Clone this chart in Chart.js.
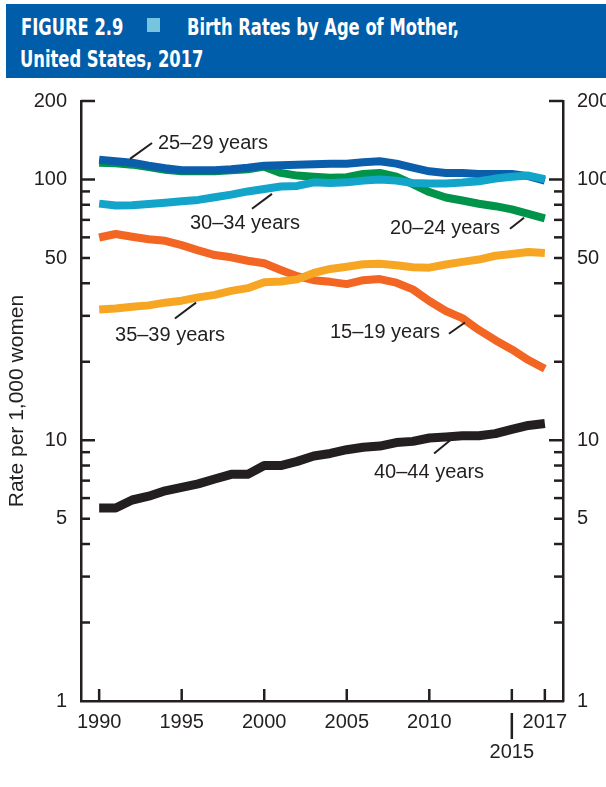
<!DOCTYPE html>
<html>
<head>
<meta charset="utf-8">
<title>Birth Rates by Age of Mother, United States, 2017</title>
<script src="https://cdn.jsdelivr.net/npm/chart.js@4"></script>
<style>
  html, body { margin: 0; padding: 0; background: #fff; overflow: hidden; }
  body { width: 606px; height: 787px; position: relative; }
  #head { position: absolute; z-index: 2; left: 6px; top: 4px; width: 600px; height: 74px; background: #005DAA; color: #fff;
          font-family: "Liberation Sans Narrow", "DejaVu Sans Condensed", sans-serif; font-weight: bold; font-size: 23px; }
  #head span { position: absolute; line-height: 23px; white-space: nowrap; transform: scaleX(0.79); transform-origin: 0 0; }
  #head .sq { position: absolute; left: 141px; top: 14px; width: 13px; height: 14px; background: #75C5E0; }
  #wrap { position: absolute; z-index: 1; left: 0; top: 75px; width: 640px; height: 712px; }
</style>
</head>
<body>
<div id="head">
  <span style="left:15px; top:12px">FIGURE 2.9</span>
  <div class="sq"></div>
  <span style="left:181px; top:12px">Birth Rates by Age of Mother,</span>
  <span style="left:14px; top:44px">United States, 2017</span>
</div>
<div id="wrap"><canvas id="chart" width="640" height="712"></canvas></div>
<script>
// === Data (rates per 1,000 women) ===
const years = [1990, 1991, 1992, 1993, 1994, 1995, 1996, 1997, 1998, 1999,
  2000, 2001, 2002, 2003, 2004, 2005, 2006, 2007, 2008, 2009,
  2010, 2011, 2012, 2013, 2014, 2015, 2016, 2017];

const rate15to19 = [59.9, 61.8, 60.3, 59.0, 58.2, 56.0, 53.5, 51.3, 50.3, 48.8,
  47.7, 45.0, 42.6, 41.1, 40.5, 39.7, 41.1, 41.5, 40.2, 37.9,
  34.2, 31.3, 29.4, 26.5, 24.2, 22.3, 20.3, 18.8];
const rate20to24 = [116, 115.5, 114, 111.5, 109, 107.5, 107.5, 107.5, 108.5, 109.5,
  112, 106, 103.5, 102.5, 101.5, 102, 105, 106, 102.5, 96,
  89.5, 85.3, 83.1, 80.7, 79, 76.8, 73.8, 71];
const rate25to29 = [119, 117.5, 116, 113, 110.5, 108.5, 108.5, 108.5, 109.5, 111,
  113, 113.5, 114, 114.5, 115, 115, 116.5, 117.5, 115, 111,
  107.5, 106, 106, 105, 105, 105, 103, 99];
const rate30to34 = [80.8, 79.5, 79.6, 80.5, 81.5, 82.5, 83.5, 85.5, 87.5, 90,
  92, 94, 94.5, 97.5, 97, 97.5, 99, 100, 99, 97,
  96.5, 96.5, 97.3, 98.5, 100.8, 102.5, 103.5, 100.3];
const rate35to39 = [31.7, 32.0, 32.5, 32.9, 33.7, 34.3, 35.3, 36.1, 37.4, 38.3,
  40.4, 40.6, 41.4, 43.8, 45.4, 46.3, 47.3, 47.5, 46.9, 46.1,
  45.9, 47.2, 48.3, 49.3, 51.0, 51.8, 52.7, 52.3];
const rate40to44 = [5.5, 5.5, 5.9, 6.1, 6.4, 6.6, 6.8, 7.1, 7.4, 7.4,
  8.0, 8.0, 8.3, 8.7, 8.9, 9.2, 9.4, 9.5, 9.8, 9.9,
  10.2, 10.3, 10.4, 10.4, 10.6, 11.0, 11.4, 11.6];

const yLabelTicks = [1, 5, 10, 50, 100, 200];
const yMajorTicks = [10, 100, 200];
const yMinorTicks = [2, 3, 4, 5, 6, 7, 8, 9, 20, 30, 40, 50, 60, 70, 80, 90];
const xTickYears = [1990, 1995, 2000, 2005, 2010, 2015, 2017];

const ink = "#231F20";
const font = { family: "'Liberation Sans', Arial, sans-serif", size: 20 };

// series labels: text anchor (year, rate) and leader line [from, to]
const seriesLabels = [
  { text: "25\u201329 years", at: [1993.56, 138], lead: [[1991.87, 120], [1993.2, 138]] },
  { text: "30\u201334 years", at: [1995.5, 67.6], lead: [[1999.26, 77.2], [2000.47, 88.1]] },
  { text: "20\u201324 years", at: [2007.62, 64.7], lead: [[2014.89, 64.7], [2015.74, 71.3]] },
  { text: "35\u201339 years", at: [1990.96, 25.2], lead: [[1994.59, 29.3], [1995.87, 33.7]] },
  { text: "15\u201319 years", at: [2003.98, 25.9], lead: [[2011.19, 25.6], [2012.16, 28.3]] },
  { text: "40\u201344 years", at: [2006.65, 7.53], lead: [[2010.29, 8.9], [2011.25, 9.98]] },
];

function series(label, values, color, width) {
  return {
    label,
    data: years.map((yr, i) => ({ x: yr, y: values[i] })),
    borderColor: color,
    borderWidth: width,
    pointRadius: 0,
    tension: 0,
    borderJoinStyle: "round",
    borderCapStyle: "butt",
    fill: false,
  };
}

// inward tick marks, the 2015 bar and series labels
const decorations = {
  id: "decorations",
  afterDatasetsDraw(chart) {
    const { ctx, chartArea: a, scales } = chart;
    const x = scales.x, y = scales.y;
    ctx.save();
    ctx.strokeStyle = ink;
    ctx.lineWidth = 2.5;
    const line = (x1, y1, x2, y2) => { ctx.beginPath(); ctx.moveTo(x1, y1); ctx.lineTo(x2, y2); ctx.stroke(); };

    for (const v of yMajorTicks.concat(yMinorTicks)) {
      const py = y.getPixelForValue(v);
      const len = yMajorTicks.includes(v) ? 14 : 9;
      line(a.left, py, a.left + len, py);
      line(a.right, py, a.right - len, py);
    }
    for (const v of xTickYears) {
      const px = x.getPixelForValue(v);
      line(px, a.bottom, px, a.bottom - 12);
    }
    const p15 = x.getPixelForValue(2015);
    line(p15, a.bottom + 12, p15, a.bottom + 38);

    ctx.lineWidth = 2;
    ctx.fillStyle = ink;
    ctx.font = `${font.size}px ${font.family}`;
    ctx.textBaseline = "middle";
    ctx.textAlign = "left";
    for (const s of seriesLabels) {
      const [p, q] = s.lead;
      line(x.getPixelForValue(p[0]), y.getPixelForValue(p[1]), x.getPixelForValue(q[0]), y.getPixelForValue(q[1]));
      ctx.fillText(s.text, x.getPixelForValue(s.at[0]), y.getPixelForValue(s.at[1]));
    }
    ctx.restore();
  },
};

const yScale = (position, width) => ({
  type: "logarithmic",
  position,
  min: 1,
  max: 200,
  afterBuildTicks: (s) => { s.ticks = yLabelTicks.map((v) => ({ value: v, major: false })); },
  afterFit: (s) => { s.width = width; },
  ticks: { callback: (v) => String(v), font, color: ink, padding: 14, autoSkip: false },
  grid: { display: false, drawTicks: false },
  border: { display: true, color: ink, width: 2.5 },
});

new Chart(document.getElementById("chart"), {
  type: "line",
  data: {
    datasets: [
      series("40\u201344 years", rate40to44, ink, 9),
      series("35\u201339 years", rate35to39, "#F6A623", 8),
      series("15\u201319 years", rate15to19, "#F26522", 8),
      series("30\u201334 years", rate30to34, "#13A4C9", 8),
      series("25\u201329 years", rate25to29, "#0A5EAC", 8),
      series("20\u201324 years", rate20to24, "#00934A", 8),
    ],
  },
  options: {
    responsive: false,
    animation: false,
    devicePixelRatio: 1,
    layout: { padding: { top: 15, left: 0, right: 0, bottom: 0 } },
    plugins: { legend: { display: false }, tooltip: { enabled: false } },
    scales: {
      x: {
        type: "linear",
        min: 1988.9,
        max: 2018.1,
        afterBuildTicks: (s) => { s.ticks = xTickYears.map((v) => ({ value: v })); },
        afterFit: (s) => { s.height = 86; },
        ticks: {
          callback: (v) => (v === 2015 ? ["", "2015"] : String(v)),
          font: { ...font, lineHeight: 1.5 },
          color: ink,
          padding: 6,
          maxRotation: 0,
          autoSkip: false,
        },
        grid: { display: false, drawTicks: false },
        border: { display: true, color: ink, width: 2.5 },
      },
      y: {
        ...yScale("left", 81),
        title: { display: true, text: "Rate per 1,000 women", font: { ...font, size: 21 }, color: ink, padding: { top: 5, bottom: 0 } },
      },
      y2: yScale("right", 77),
    },
  },
  plugins: [decorations],
});
</script>
</body>
</html>
